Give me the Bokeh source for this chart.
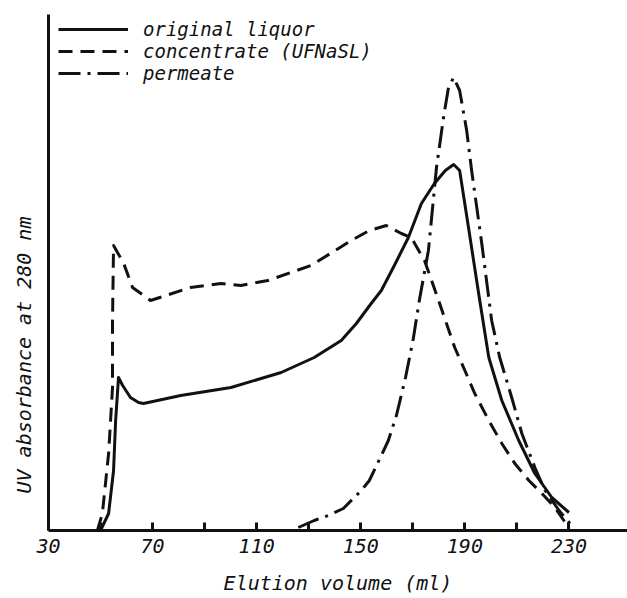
from bokeh.plotting import figure
from bokeh.models import Range1d, FixedTicker, Legend, LegendItem, Title
from bokeh.embed import file_html
from bokeh.resources import INLINE

# ---- data (elution volume in ml, UV absorbance in arbitrary units) ----
orig_x = [50.0, 53.1, 55.0, 55.8, 56.9, 58.5, 61.5, 64.6, 66.5, 80.8, 100.1, 119.4,
          132.1, 142.5, 148.3, 154.0, 157.9, 162.9, 168.3, 173.3, 178.3, 182.5, 185.7,
          188.0, 191.4, 195.3, 199.2, 204.2, 210.7, 216.9, 223.4, 230.0]
orig_y = [0, 17, 60, 110, 153, 145, 133, 128, 127, 135, 143, 158,
          173, 190, 207, 227, 240, 265, 293, 327, 347, 360, 366,
          360, 303, 237, 173, 130, 90, 57, 33, 18]

conc_x = [48.8, 50.7, 53.1, 54.6, 54.6, 55.0, 58.9, 62.3, 69.2, 84.6, 96.2, 103.9,
          114.3, 130.9, 146.3, 153.3, 159.8, 165.6, 169.4, 174.5, 179.9, 186.1, 190.0,
          193.8, 199.2, 204.2, 209.2, 214.6, 219.6, 224.6, 229.6]
conc_y = [0, 17, 77, 143, 210, 285, 267, 243, 230, 243, 247, 245,
          250, 265, 290, 300, 305, 297, 293, 270, 230, 183, 160,
          137, 110, 87, 67, 50, 37, 23, 4]

perm_x = [126.0, 132.1, 137.5, 143.3, 150.2, 153.3, 157.9, 160.6, 163.7, 167.2,
          170.2, 172.5, 176.0, 179.1, 181.8, 183.7, 185.7, 188.0, 190.7, 192.6,
          196.5, 200.3, 203.4, 208.0, 211.9, 216.9, 220.8, 226.2, 230.4]
perm_y = [3, 10, 15, 22, 40, 50, 75, 90, 115, 153,
          192, 230, 280, 363, 413, 443, 453, 440, 400, 360,
          287, 210, 173, 133, 97, 63, 40, 20, 7]

tick_values = [30, 50, 70, 90, 110, 130, 150, 170, 190, 210, 230]
labelled_ticks = [30, 70, 110, 150, 190, 230]

series_names = ["original liquor", "concentrate (UFNaSL)", "permeate"]
x_label = "Elution volume (ml)"
y_label = "UV absorbance at 280 nm"

FONT = "DejaVu Sans Mono"
INK = "#111111"

p = figure(width=627, height=598, output_backend="svg", toolbar_location=None,
           x_range=Range1d(30.0, 252.5), y_range=Range1d(0, 516),
           min_border_left=48, min_border_right=0, min_border_top=14,
           min_border_bottom=68)
p.outline_line_color = None
p.grid.visible = False
p.background_fill_color = "white"
p.border_fill_color = "white"

r1 = p.line(orig_x, orig_y, line_color=INK, line_width=3, line_join="round")
r2 = p.line(conc_x, conc_y, line_color=INK, line_width=3, line_dash="14 8", line_join="round")
r3 = p.line(perm_x, perm_y, line_color=INK, line_width=3, line_dash="22 7 3 7", line_join="round")

# x axis
xa = p.xaxis[0]
xa.ticker = FixedTicker(ticks=tick_values)
xa.major_label_overrides = {t: (str(t) if t in labelled_ticks else "") for t in tick_values}
xa.minor_tick_line_color = None
xa.major_tick_in = 8
xa.major_tick_out = 0
xa.major_tick_line_width = 3
xa.major_tick_line_color = INK
xa.axis_line_width = 3
xa.axis_line_color = INK
xa.major_label_text_font = FONT
xa.major_label_text_font_style = "italic"
xa.major_label_text_font_size = "20px"
xa.major_label_text_color = INK
xa.major_label_standoff = 8
xa.axis_label = x_label
xa.axis_label_text_font = FONT
xa.axis_label_text_font_style = "italic"
xa.axis_label_text_font_size = "20px"
xa.axis_label_text_color = INK
xa.axis_label_standoff = 15

# y axis: plain line only
ya = p.yaxis[0]
ya.ticker = FixedTicker(ticks=[])
ya.major_label_text_font_size = "0px"
ya.minor_tick_line_color = None
ya.major_tick_line_color = None
ya.major_tick_in = 0
ya.major_tick_out = 0
ya.major_label_standoff = 0
ya.axis_line_width = 3
ya.axis_line_color = INK

ytitle = Title(text=y_label, align="left", offset=37, standoff=22,
               vertical_align="top",
               text_font=FONT, text_font_style="italic", text_font_size="20px",
               text_color=INK)
p.add_layout(ytitle, "left")

legend = Legend(items=[LegendItem(label=series_names[0], renderers=[r1]),
                       LegendItem(label=series_names[1], renderers=[r2]),
                       LegendItem(label=series_names[2], renderers=[r3])],
                location=(10, 446), glyph_width=70, glyph_height=20,
                label_height=20, label_standoff=15, spacing=0, padding=0, margin=0,
                border_line_color=None, background_fill_alpha=0,
                label_text_font=FONT, label_text_font_style="italic",
                label_text_font_size="19px", label_text_color=INK)
p.add_layout(legend)

open("out.html", "w").write(file_html(p, INLINE))
